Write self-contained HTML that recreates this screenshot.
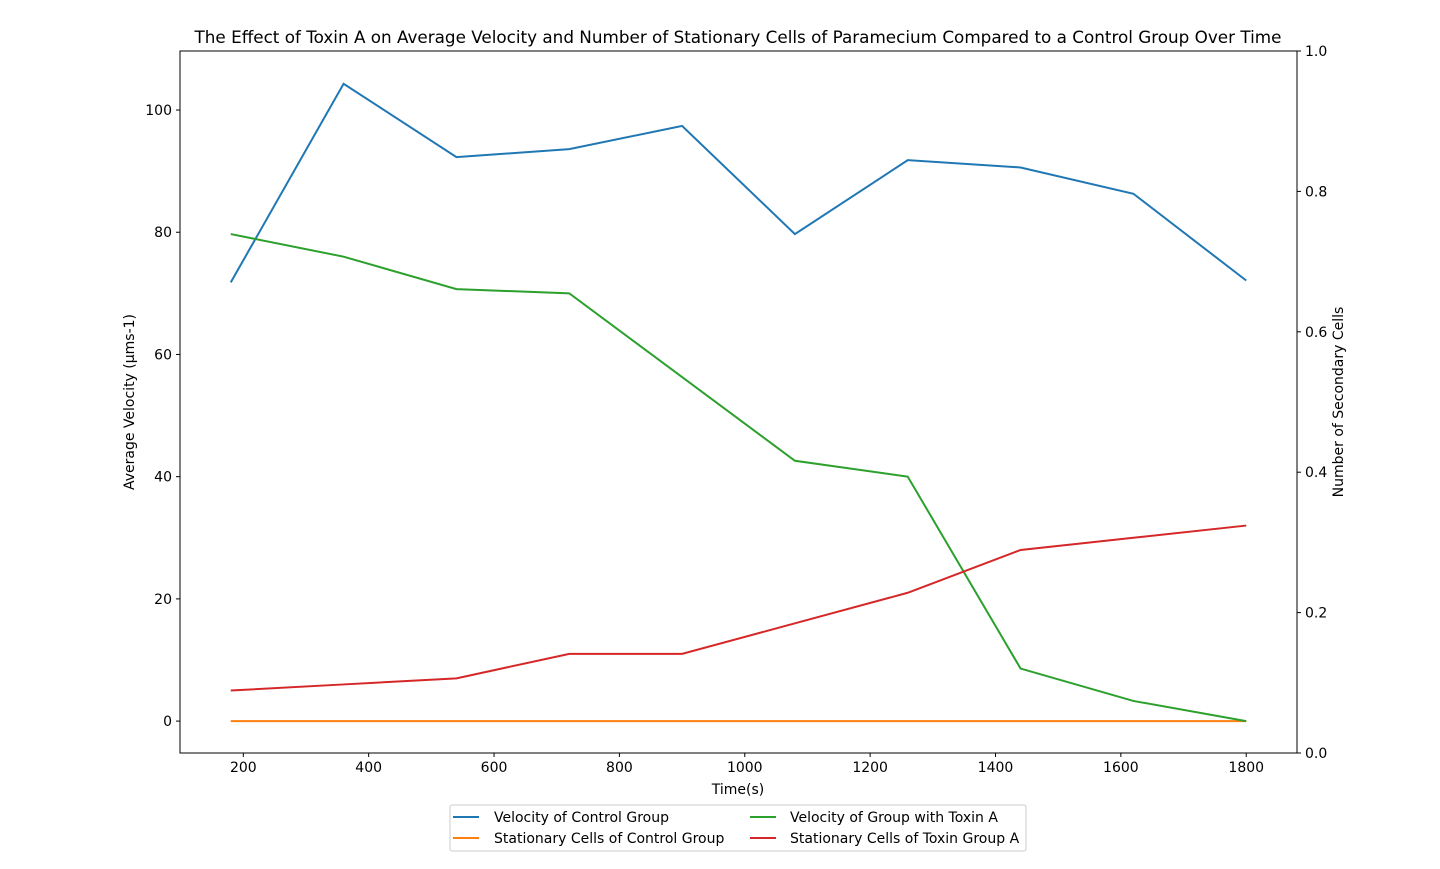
<!DOCTYPE html>
<html><head><meta charset="utf-8"><style>
body{margin:0;background:#fff;}
svg text{font-family:"DejaVu Sans","Liberation Sans",sans-serif;font-size:14px;fill:#000;}
</style></head><body>
<svg id="chart" width="1440" height="864" xmlns="http://www.w3.org/2000/svg">
<rect width="1440" height="864" fill="#fff"/>
<text x="738" y="43" text-anchor="middle" style="font-size:16.8px">The Effect of Toxin A on Average Velocity and Number of Stationary Cells of Paramecium Compared to a Control Group Over Time</text>
<g id="marks"></g>
<g id="axes"></g>
<rect x="180" y="51" width="1117" height="702" fill="none" stroke="#000" stroke-width="1"/>
<text x="738" y="794" text-anchor="middle">Time(s)</text>
<text transform="translate(134,402) rotate(-90)" text-anchor="middle">Average Velocity (µms-1)</text>
<text transform="translate(1343,402) rotate(-90)" text-anchor="middle">Number of Secondary Cells</text>
<g>
<rect x="450" y="805" width="576" height="46" fill="#fff" stroke="#ccc" rx="2"/>
<line x1="453" y1="817" x2="479" y2="817" stroke="#1f77b4" stroke-width="2"/>
<text x="494" y="822">Velocity of Control Group</text>
<line x1="453" y1="838" x2="479" y2="838" stroke="#ff7f0e" stroke-width="2"/>
<text x="494" y="843">Stationary Cells of Control Group</text>
<line x1="750" y1="817" x2="776" y2="817" stroke="#2ca02c" stroke-width="2"/>
<text x="790" y="822">Velocity of Group with Toxin A</text>
<line x1="750" y1="838" x2="776" y2="838" stroke="#d62728" stroke-width="2"/>
<text x="790" y="843">Stationary Cells of Toxin Group A</text>
</g>
</svg>
<script>
const times=[180,360,540,720,900,1080,1260,1440,1620,1800];
const velocityControl=[71.8,104.3,92.3,93.6,97.4,79.7,91.8,90.6,86.3,72.1];
const stationaryControl=[0,0,0,0,0,0,0,0,0,0];
const velocityToxin=[79.7,76.0,70.7,70.0,56.3,42.6,40.0,8.6,3.3,0];
const stationaryToxin=[5,6,7,11,11,16,21,28,30,32];
const xTicks=[200,400,600,800,1000,1200,1400,1600,1800];
const yTicks=[0,20,40,60,80,100];
const y2Ticks=[0.0,0.2,0.4,0.6,0.8,1.0];
const NS="http://www.w3.org/2000/svg";
const L=180,R=1297,T=51,B=753;
const xMin=99,xMax=1881,yMin=-5.22,yMax=109.66;
const xs=v=>L+(v-xMin)/(xMax-xMin)*(R-L);
const ys=v=>B-(v-yMin)/(yMax-yMin)*(B-T);
const y2s=v=>B-v*(B-T);
function mk(t,a){const e=document.createElementNS(NS,t);for(const k in a)e.setAttribute(k,a[k]);return e;}
const axes=document.getElementById('axes'),marks=document.getElementById('marks');
xTicks.forEach(v=>{const x=xs(v);
const l=mk('line',{x1:x,x2:x,y1:B,y2:B+4,stroke:'#000'});


axes.appendChild(l);
const t=mk('text',{x:x,y:B+19,'text-anchor':'middle'});t.textContent=v;


axes.appendChild(t);});
yTicks.forEach(v=>{const y=ys(v);
const l=mk('line',{x1:L-4,x2:L,y1:y,y2:y,stroke:'#000'});


axes.appendChild(l);
const t=mk('text',{x:L-8,y:y+5,'text-anchor':'end'});t.textContent=v;


axes.appendChild(t);});
y2Ticks.forEach(v=>{const y=y2s(v);
const l=mk('line',{x1:R,x2:R+4,y1:y,y2:y,stroke:'#000'});


axes.appendChild(l);
const t=mk('text',{x:R+8,y:y+5,'text-anchor':'start'});t.textContent=v.toFixed(1);


axes.appendChild(t);});
function series(vals,color,name){
const p=mk('polyline',{points:vals.map((v,i)=>xs(times[i])+','+ys(v)).join(' '),fill:'none',stroke:color,'stroke-width':2});


marks.appendChild(p);}
series(velocityControl,'#1f77b4','line-velocity-control');
series(stationaryControl,'#ff7f0e','line-stationary-control');
series(velocityToxin,'#2ca02c','line-velocity-toxin');
series(stationaryToxin,'#d62728','line-stationary-toxin');
</script>
</body></html>
